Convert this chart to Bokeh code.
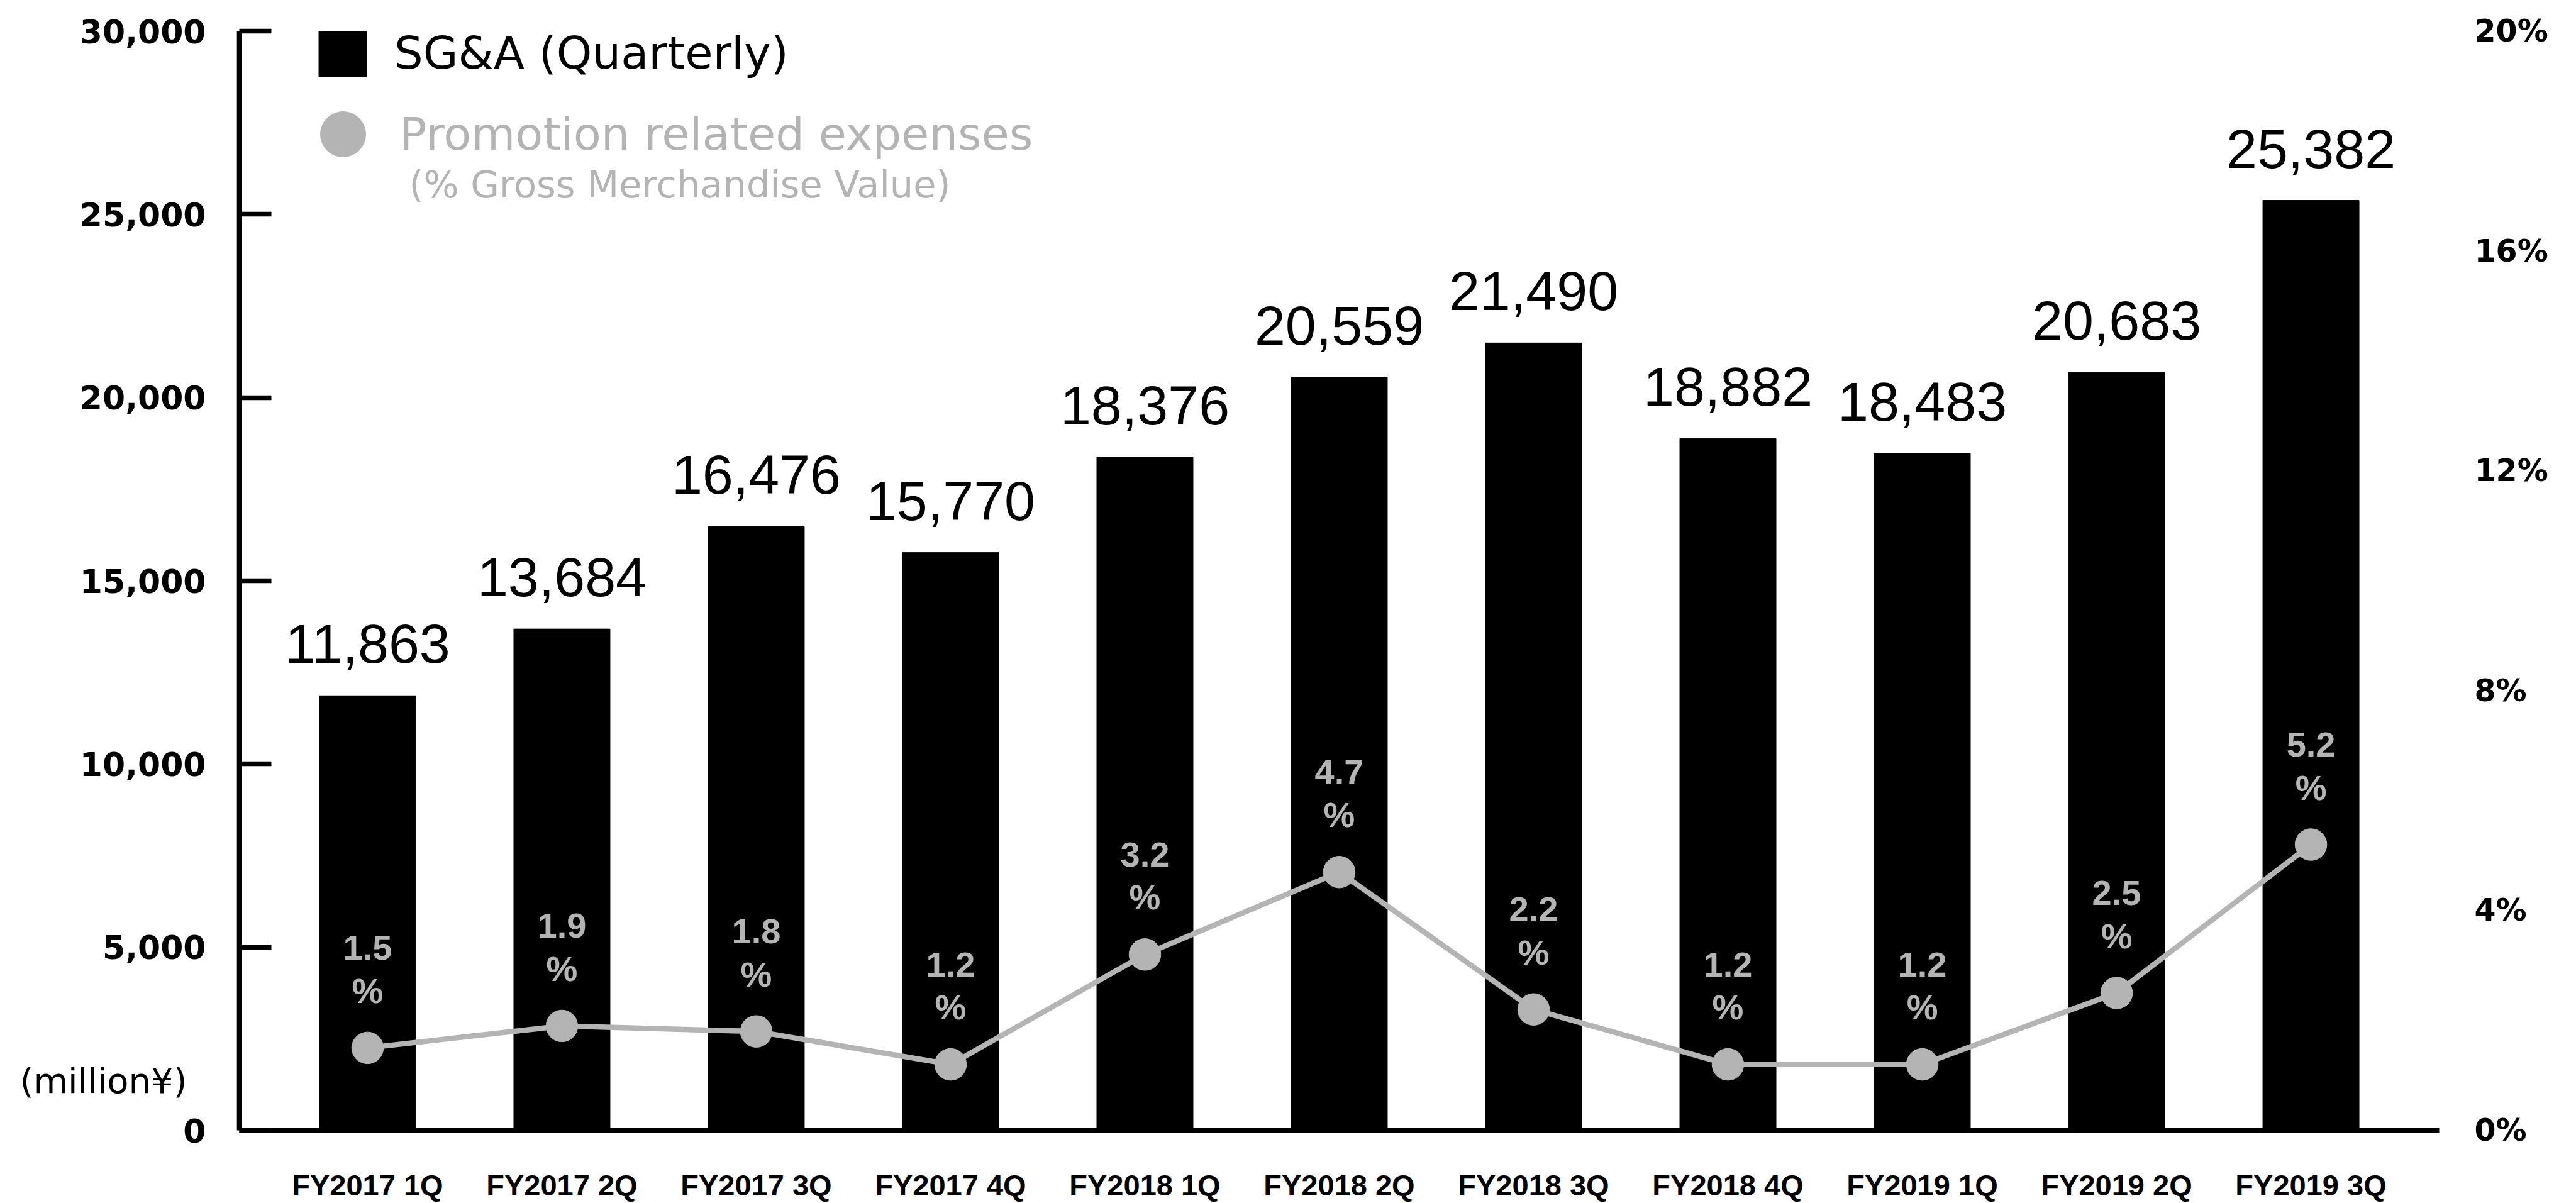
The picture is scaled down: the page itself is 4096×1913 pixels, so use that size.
from bokeh.plotting import figure
from bokeh.models import (Range1d, FactorRange, LinearAxis, FixedTicker, NumeralTickFormatter,
                          PrintfTickFormatter, Legend, LegendItem, Label)
from bokeh.core.properties import value
from bokeh.embed import file_html
from bokeh.resources import INLINE

# ---- data ----
quarters = ["FY2017 1Q", "FY2017 2Q", "FY2017 3Q", "FY2017 4Q",
            "FY2018 1Q", "FY2018 2Q", "FY2018 3Q", "FY2018 4Q",
            "FY2019 1Q", "FY2019 2Q", "FY2019 3Q"]
sga = [11863, 13684, 16476, 15770, 18376, 20559, 21490, 18882, 18483, 20683, 25382]
promo_pct = [1.5, 1.9, 1.8, 1.2, 3.2, 4.7, 2.2, 1.2, 1.2, 2.5, 5.2]
left_ticks = [0, 5000, 10000, 15000, 20000, 25000, 30000]
right_ticks = [0, 4, 8, 12, 16, 20]
sga_name = "SG&A (Quarterly)"
promo_name = "Promotion related expenses"
promo_sub = "(% Gross Merchandise Value)"
unit_label = "(million¥)"
unit_label_at = 1353   # value on the left scale where the unit note sits

GRAY = "#b4b4b4"
W, H = 4096, 1913
FL, FR, FT, FB = 380, 3878, 49, 1801   # frame edges (px)
frame_h = FB - FT

p = figure(width=W, height=H,
           x_range=FactorRange(factors=quarters, range_padding=0.16,
                               range_padding_units="absolute"),
           y_range=Range1d(0, 30000),
           output_backend="svg", toolbar_location=None,
           min_border_left=FL, min_border_right=W - FR,
           min_border_top=FT, min_border_bottom=H - FB)
p.title.visible = False
p.outline_line_color = None
p.xgrid.visible = False
p.ygrid.visible = False
p.background_fill_color = "white"
p.border_fill_color = "white"

p.extra_y_ranges = {"pct": Range1d(0, 20)}

# left axis
ya = p.yaxis[0]
ya.ticker = FixedTicker(ticks=left_ticks)
ya.formatter = NumeralTickFormatter(format="0,0")
ya.axis_line_width = 7.6
ya.axis_line_color = "black"
ya.major_tick_line_width = 7.6
ya.major_tick_in = 51
ya.major_tick_out = 0
ya.minor_tick_line_color = None
ya.major_label_standoff = 53
ya.major_label_text_font = "DejaVu Sans"
ya.major_label_text_font_style = "bold"
ya.major_label_text_font_size = "52px"
ya.major_label_text_color = "black"

# unit note as a second, line-less left axis
ua = LinearAxis(ticker=FixedTicker(ticks=[unit_label_at]),
                major_label_overrides={unit_label_at: unit_label})
ua.axis_line_color = None
ua.major_tick_line_color = None
ua.minor_tick_line_color = None
ua.major_tick_in = 0
ua.major_tick_out = 0
ua.major_label_standoff = -174
ua.major_label_text_font = "DejaVu Sans"
ua.major_label_text_font_size = "56px"
ua.major_label_text_color = "black"
p.add_layout(ua, "left")

# bottom axis
xa = p.xaxis[0]
xa.axis_line_width = 8
xa.axis_line_color = "black"
xa.major_tick_line_color = None
xa.minor_tick_line_color = None
xa.major_tick_in = 0
xa.major_tick_out = 0
xa.major_label_standoff = 60
xa.major_label_text_font = "Liberation Sans"
xa.major_label_text_font_style = "bold"
xa.major_label_text_font_size = "47px"
xa.major_label_text_color = "black"

# right axis
ra = LinearAxis(y_range_name="pct", ticker=FixedTicker(ticks=right_ticks),
                formatter=PrintfTickFormatter(format="%d%%"))
ra.axis_line_color = None
ra.major_tick_line_color = None
ra.minor_tick_line_color = None
ra.major_label_standoff = 50
ra.major_label_text_font = "DejaVu Sans"
ra.major_label_text_font_style = "bold"
ra.major_label_text_font_size = "49px"
ra.major_label_text_color = "black"
p.add_layout(ra, "right")

# bars
bars = p.vbar(x=quarters, top=sga, width=0.495, color="black")
p.text(x=quarters, y=sga, text=[f"{v:,}" for v in sga],
       y_offset=-82, text_align="center", text_baseline="alphabetic",
       text_font=value("Liberation Sans"), text_font_size="88px", text_color="black")

# promotion line
p.line(x=quarters, y=promo_pct, y_range_name="pct", line_color=GRAY, line_width=8.5)
dots = p.scatter(x=quarters, y=promo_pct, y_range_name="pct", size=50.5,
                 fill_color=GRAY, line_color=GRAY)
p.text(x=quarters, y=promo_pct, y_range_name="pct", text=[f"{v:.1f}" for v in promo_pct],
       y_offset=-159, text_align="center", text_baseline="alphabetic",
       text_font=value("Liberation Sans"), text_font_style="bold",
       text_font_size="56px", text_color=GRAY)
p.text(x=quarters, y=promo_pct, y_range_name="pct", text=["%"] * len(promo_pct),
       y_offset=-91, text_align="center", text_baseline="alphabetic",
       text_font=value("Liberation Sans"), text_font_style="bold",
       text_font_size="56px", text_color=GRAY)

# legends
legA = Legend(items=[LegendItem(label=value(sga_name), renderers=[bars])],
              location=(117, frame_h + 9 - 95), glyph_width=95, glyph_height=95,
              label_standoff=35, label_text_font="DejaVu Sans", label_text_font_size="72px",
              label_text_color="black", padding=0, margin=0, spacing=0,
              border_line_color=None, background_fill_alpha=0)
p.add_layout(legA)
legB = Legend(items=[LegendItem(label=value(promo_name), renderers=[dots])],
              location=(75, frame_h - 73 - 190), glyph_width=180, glyph_height=190,
              label_standoff=0, label_text_font="DejaVu Sans", label_text_font_size="72px",
              label_text_color=GRAY, padding=0, margin=0, spacing=0,
              border_line_color=None, background_fill_alpha=0)
p.add_layout(legB)

p.add_layout(Label(x=270, y=FB - 297, x_units="screen", y_units="screen", text=promo_sub,
                   text_font="DejaVu Sans", text_font_size="59px", text_color=GRAY,
                   text_baseline="middle", text_align="left"))

open("out.html", "w").write(file_html(p, INLINE))
